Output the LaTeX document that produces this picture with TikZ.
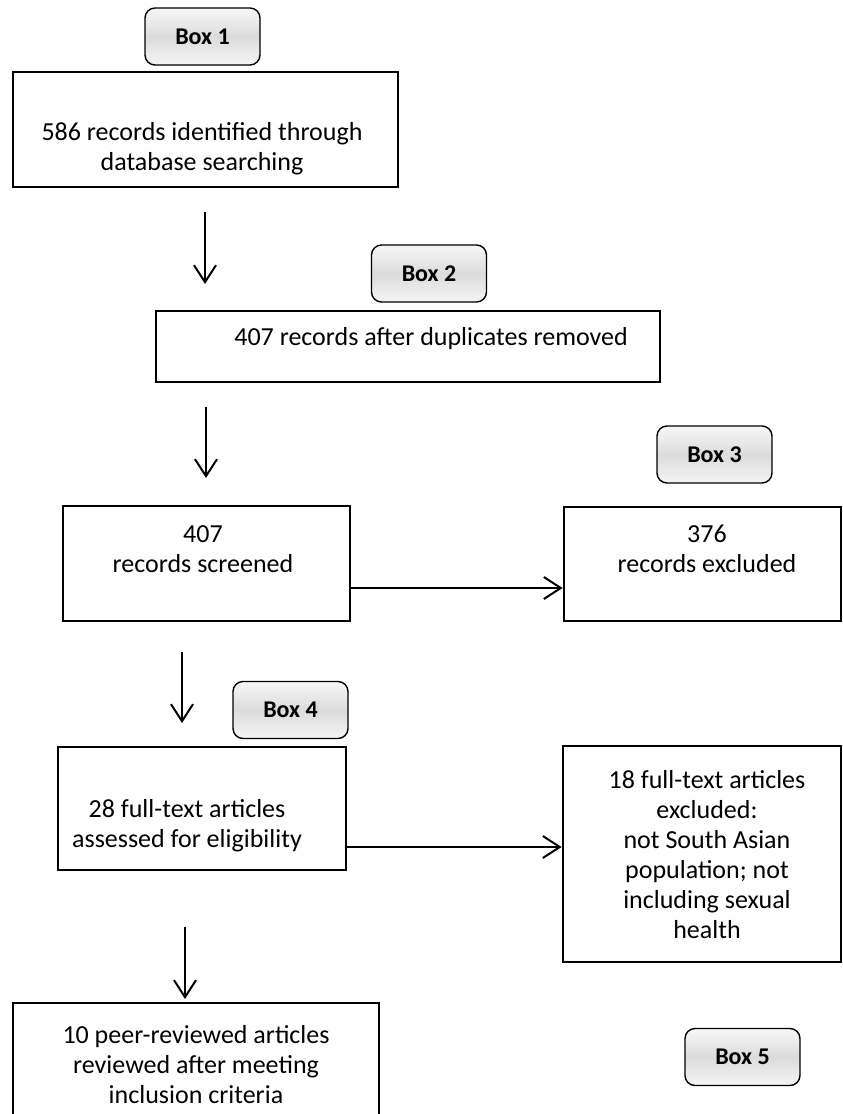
\documentclass[tikz,border=0pt]{standalone}
\usepackage{fontspec}
\setmainfont{Carlito}
\usetikzlibrary{positioning, arrows.meta}
\tikzset{
    x=1pt, y=-1pt, % one unit per pixel, y going down
    >={Straight Barb[length=17pt, width=22pt]}, % open arrow heads
    box/.style={draw, line width=2.7pt, inner sep=0pt}, % the record boxes
    boxlabel/.style={draw, line width=1.4pt, rounded corners=10pt, minimum width=115pt, minimum height=57pt,
        top color=gray!6, bottom color=gray!8, middle color=gray!28, font=\bfseries\fontsize{24}{28}\selectfont},
    txt/.style={align=center, inner sep=0pt, anchor=base, font=\fontsize{26}{30}\selectfont}, % base = last line
    arr/.style={->, line width=2pt},
    }
\begin{document}
\begin{tikzpicture}
    \useasboundingbox (0,0) rectangle (843,1114);
    % boxes
    \node[box, minimum width=385pt, minimum height=115pt] (b1) at (205.5,129.5) {};
    \node[box, minimum width=504pt, minimum height=71pt] (b2) at (408,346.5) {};
    \node[box, minimum width=287pt, minimum height=115pt] (b3) at (206.5,563.5) {};
    \node[box, minimum width=277pt, minimum height=114pt] (b3x) at (702.5,564) {};
    \node[box, minimum width=288pt, minimum height=123pt] (b4) at (202,808.5) {};
    \node[box, minimum width=278pt, minimum height=216pt] (b4x) at (702,854) {};
    \node[box, minimum width=366pt, minimum height=122pt] (b5) at (196,1064) {};
    % texts
    \node[txt] (t1) at (202,170) {586 records identified through\\database searching};
    \node[txt] (t2) at (431,345) {407 records after duplicates removed};
    \node[txt] (t3) at (203,572) {407\\records screened};
    \node[txt] (t3x) at (707,572) {376\\records excluded};
    \node[txt] (t4) at (187,847) {28 full-text articles\\assessed for eligibility};
    \node[txt] (t4x) at (707,938) {18 full-text articles\\excluded:\\not South Asian\\population; not\\including sexual\\health};
    \node[txt] (t5) at (196,1103) {10 peer-reviewed articles\\reviewed after meeting\\inclusion criteria};
    % labels
    \node[boxlabel] (lab1) at (202.5,36.5) {Box 1};
    \node[boxlabel] (lab2) at (429,273.5) {Box 2};
    \node[boxlabel] (lab3) at (714.5,454.5) {Box 3};
    \node[boxlabel] (lab4) at (290.5,710) {Box 4};
    \node[boxlabel] (lab5) at (742.5,1057) {Box 5};
    % arrows
    \coordinate (a1s) at (205,212); \coordinate (a1e) at (205,284);
    \coordinate (a2s) at (206,407); \coordinate (a2e) at (206,478);
    \coordinate (a3s) at (182,652); \coordinate (a3e) at (182,723);
    \coordinate (a4s) at (185,927); \coordinate (a4e) at (185,999);
    \coordinate (h1) at (0,588);
    \coordinate (h2) at (0,847);
    \draw[arr] (a1s) -- (a1e);
    \draw[arr] (a2s) -- (a2e);
    \draw[arr] (a3s) -- (a3e);
    \draw[arr] (a4s) -- (a4e);
    \draw[arr] (b3.east |- h1) -- (b3x.west |- h1);
    \draw[arr] (b4.east |- h2) -- (b4x.west |- h2);
\end{tikzpicture}
\end{document}
